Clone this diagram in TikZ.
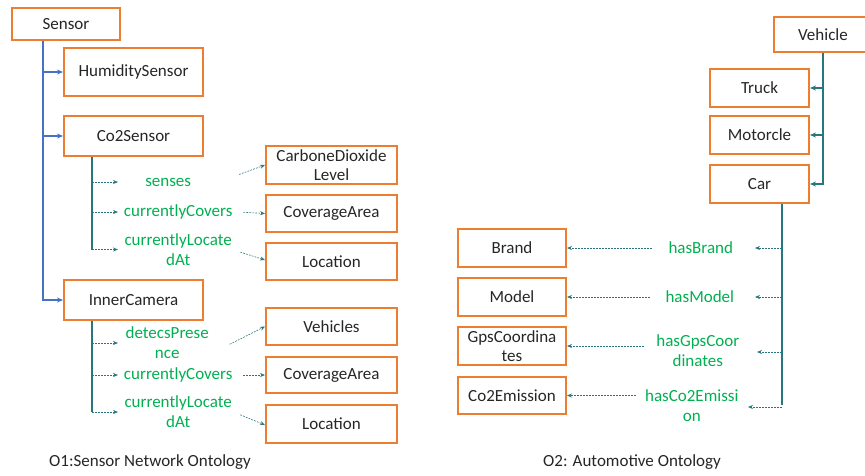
\documentclass[tikz,border=0pt]{standalone}
\usepackage{fontspec}
\setmainfont{Carlito}
\usetikzlibrary{arrows.meta}
\definecolor{boxorange}{RGB}{237,125,49}
\definecolor{isablue}{RGB}{68,114,196}
\definecolor{propteal}{RGB}{40,118,126}
\definecolor{relgreen}{RGB}{0,176,80}
\tikzset{
  cls/.style={draw=boxorange, line width=2pt, minimum width=139pt, minimum height=38pt, align=center, inner sep=1pt, text=black!85, font=\fontsize{17}{19.5}\selectfont},
  rel/.style={text=relgreen, align=center, inner sep=0pt, minimum width=120pt, font=\fontsize{17}{20}\selectfont},
  isa/.style={draw=isablue, line width=1.8pt},
  isarrow/.style={isa, -{Stealth[length=6pt,width=5pt]}},
  trunk/.style={draw=propteal, line width=1.8pt},
  trunkarrow/.style={trunk, -{Stealth[length=6pt,width=5pt]}},
  proparrow/.style={draw=propteal, line width=0.6pt, dash pattern=on 1.8pt off 1.2pt, -{Stealth[length=5pt,width=4pt]}},
}
\begin{document}
\begin{tikzpicture}[x=1pt,y=-1pt]
    \useasboundingbox (0,0) rectangle (865,475);
    \node[cls, minimum width=108pt, minimum height=32pt] (sensor) at (66,24) {Sensor};
    \node[cls, minimum height=48pt] (humidity) at (133.5,72) {HumiditySensor};
    \node[cls, minimum height=40pt] (co2sensor) at (133.5,136) {Co2Sensor};
    \node[cls, minimum height=40pt] (innercam) at (133.5,300) {InnerCamera};
    \coordinate (strunk) at (43,300);
    \draw[isarrow] (sensor.south -| strunk) |- (innercam.west);
    \draw[isarrow] (strunk |- humidity.west) -- (humidity.west);
    \draw[isarrow] (strunk |- co2sensor.west) -- (co2sensor.west);

    \node[cls, minimum width=131pt, minimum height=38pt] (cdl) at (331.5,165) {CarboneDioxide\\Level};
    \node[cls, minimum width=131pt, minimum height=37pt] (coverage1) at (331.5,213.5) {CoverageArea};
    \node[cls, minimum width=131pt, minimum height=37pt] (location1) at (331.5,261.5) {Location};
    \node[rel, minimum width=100pt, anchor=west] (senses) at (118,182) {senses};
    \node[rel, anchor=west] (covers1) at (118,212) {currentlyCovers};
    \node[rel, anchor=west] (located1) at (118,249.5) {currentlyLocate\\dAt};
    \coordinate (ctrunk) at (92,250);
    \draw[trunk] (co2sensor.south -| ctrunk) -- (ctrunk);
    \draw[proparrow] (ctrunk |- senses) -- (senses.west);
    \draw[proparrow] (ctrunk |- covers1) -- (covers1.west);
    \draw[proparrow] (ctrunk |- located1) -- (located1.west);
    \draw[proparrow, shorten <=22pt] (senses.east) -- (cdl.west);
    \draw[proparrow, shorten <=5pt] (covers1.east) -- (coverage1.west);
    \draw[proparrow, shorten <=2pt] ([yshift=-2pt]located1.east) -- ([yshift=1.5pt]location1.west);

    \node[cls, minimum width=131pt, minimum height=37pt] (vehicles) at (331.5,326.5) {Vehicles};
    \node[cls, minimum width=131pt, minimum height=36pt] (coverage2) at (331.5,375) {CoverageArea};
    \node[cls, minimum width=131pt, minimum height=38pt] (location2) at (331.5,424) {Location};
    \node[rel, minimum width=98pt, anchor=west] (detects) at (118,343) {detecsPrese\\nce};
    \node[rel, anchor=west] (covers2) at (118,375) {currentlyCovers};
    \node[rel, anchor=west] (located2) at (118,412) {currentlyLocate\\dAt};
    \coordinate (itrunk) at (92,412);
    \draw[trunk] (innercam.south -| itrunk) -- (itrunk);
    \draw[proparrow] (itrunk |- detects) -- (detects.west);
    \draw[proparrow] (itrunk |- covers2) -- (covers2.west);
    \draw[proparrow] (itrunk |- located2) -- (located2.west);
    \draw[proparrow, shorten <=15pt] ([yshift=-8pt]detects.east) -- (vehicles.west);
    \draw[proparrow, shorten <=5pt] (covers2.east) -- (coverage2.west);
    \draw[proparrow, shorten <=2pt] ([yshift=-2pt]located2.east) -- ([yshift=-1pt]location2.west);

    \node[cls, minimum width=98pt, minimum height=35pt] (vehicle) at (823,34.5) {Vehicle};
    \node[cls, minimum width=99pt] (truck) at (759.5,88) {Truck};
    \node[cls, minimum width=99pt] (motorcle) at (759.5,135) {Motorcle};
    \node[cls, minimum width=99pt] (car) at (759.5,184) {Car};
    \draw[trunkarrow] (vehicle.south) |- (car.east);
    \draw[trunkarrow] (vehicle.south |- truck.east) -- (truck.east);
    \draw[trunkarrow] (vehicle.south |- motorcle.east) -- (motorcle.east);

    \node[cls, minimum width=108pt] (brand) at (512,248) {Brand};
    \node[cls, minimum width=108pt] (model) at (512,297) {Model};
    \node[cls, minimum width=108pt] (gps) at (512,346) {GpsCoordina\\tes};
    \node[cls, minimum width=108pt, minimum height=37pt] (emission) at (512,395.5) {Co2Emission};
    \node[rel, minimum width=98pt, anchor=east] (hasbrand) at (750,248) {hasBrand};
    \node[rel, minimum width=100pt, anchor=east] (hasmodel) at (750,297) {hasModel};
    \node[rel, minimum width=108pt, anchor=east] (hasgps) at (752,350.5) {hasGpsCoor\\dinates};
    \node[rel, minimum width=112pt, anchor=east] (hasemission) at (748,405.5) {hasCo2Emissi\\on};
    \coordinate (ctrunk2) at (782,405);
    \draw[trunk] (car.south -| ctrunk2) -- (ctrunk2);
    \draw[proparrow, shorten >=5pt] (ctrunk2 |- hasbrand) -- (hasbrand.east);
    \draw[proparrow, shorten >=5pt] (ctrunk2 |- hasmodel) -- (hasmodel.east);
    \draw[proparrow, shorten >=5pt] ([yshift=-1.5pt]ctrunk2 |- hasgps) -- ([yshift=-1.5pt]hasgps.east);
    \draw[proparrow] ([yshift=-1.5pt]ctrunk2 |- hasemission) -- ([yshift=-1.5pt]hasemission.east);
    \draw[proparrow] (hasbrand.west) -- (brand.east);
    \draw[proparrow] (hasmodel.west) -- (model.east);
    \draw[proparrow] (hasgps.west |- gps.east) -- (gps.east);
    \draw[proparrow] (hasemission.west |- emission.east) -- (emission.east);

    \node[font=\fontsize{17}{20}\selectfont, text=black!85] (caption1) at (150,462) {O1:Sensor Network Ontology};
    \node[font=\fontsize{17}{20}\selectfont, text=black!85] (caption2) at (632,462) {O2: Automotive Ontology};
\end{tikzpicture}
\end{document}
